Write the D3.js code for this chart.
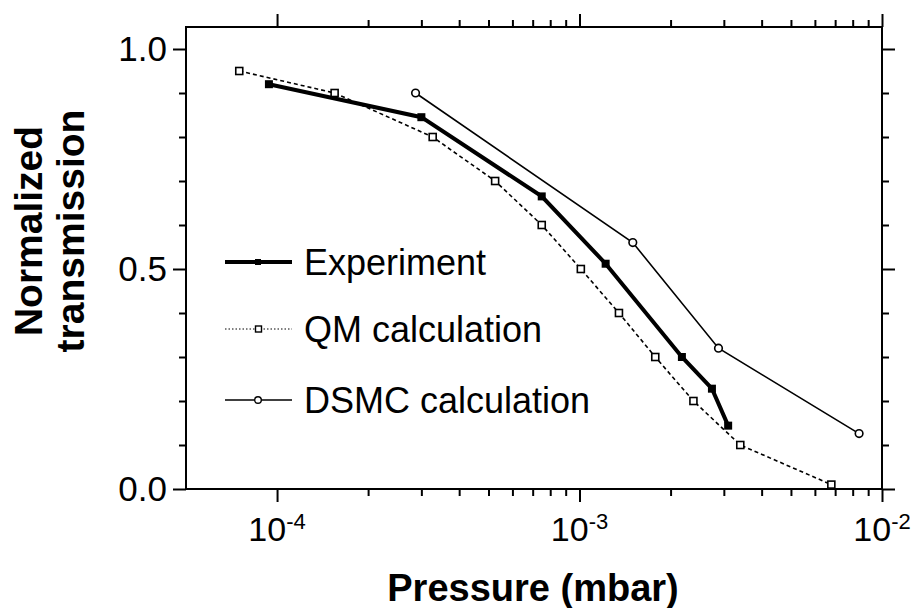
<!DOCTYPE html>
<html>
<head>
<meta charset="utf-8">
<script src="https://cdn.jsdelivr.net/npm/d3@7"></script>
<style>
  body { margin: 0; background: #fff; }
  text { font-family: Arial, "Liberation Sans", sans-serif; fill: #000; }
</style>
</head>
<body>
<div id="chart-area"></div>
<script>
// data
const expP = [9.4e-5, 3.0e-4, 7.5e-4, 1.22e-3, 2.18e-3, 2.74e-3, 3.1e-3]
const expT = [0.92, 0.845, 0.665, 0.512, 0.30, 0.228, 0.144]
const qmP = [7.5e-5, 1.55e-4, 3.27e-4, 5.26e-4, 7.5e-4, 1.01e-3, 1.35e-3, 1.78e-3, 2.38e-3, 3.4e-3, 6.8e-3]
const qmT = [0.95, 0.90, 0.80, 0.70, 0.60, 0.50, 0.40, 0.30, 0.20, 0.10, 0.01]
const dsmcP = [2.87e-4, 1.5e-3, 2.88e-3, 8.4e-3]
const dsmcT = [0.90, 0.56, 0.32, 0.126]

const xMajor = [1e-4, 1e-3, 1e-2]
const xExp = [-4, -3, -2]
const xMinor = [2e-4, 3e-4, 4e-4, 5e-4, 6e-4, 7e-4, 8e-4, 9e-4,
                2e-3, 3e-3, 4e-3, 5e-3, 6e-3, 7e-3, 8e-3, 9e-3]
const yMajor = [0, 0.5, 1.0]
const yLabels = ["0.0", "0.5", "1.0"]
const yMinor = [0.1, 0.2, 0.3, 0.4, 0.6, 0.7, 0.8, 0.9]
const legendNames = ["Experiment", "QM calculation", "DSMC calculation"]

const L = 186, R = 882, T = 27, B = 489

const svg = d3.select("#chart-area").append("svg")
    .attr("width", 920)
    .attr("height", 608)

const x = d3.scaleLog().domain([5e-5, 1e-2]).range([L, R])
const y = d3.scaleLinear().domain([0, 1.05]).range([B, T])

// ticks on all four sides, pointing outward
function ticks(axis, tx, ty, vals, size) {
    const g = svg.append("g")
        .attr("transform", `translate(${tx},${ty})`)
        .call(axis.tickValues(vals).tickSize(size).tickFormat(""))
    g.select(".domain").remove()
    g.selectAll("line").attr("stroke", "#000").attr("stroke-width", 2)
}
ticks(d3.axisBottom(x), 0, B, xMajor, 13)
ticks(d3.axisBottom(x), 0, B, xMinor, 7)
ticks(d3.axisTop(x), 0, T, xMajor, 13)
ticks(d3.axisTop(x), 0, T, xMinor, 7)
ticks(d3.axisLeft(y), L, 0, yMajor, 13)
ticks(d3.axisLeft(y), L, 0, yMinor, 7)
ticks(d3.axisRight(y), R, 0, yMajor, 13)
ticks(d3.axisRight(y), R, 0, yMinor, 7)

svg.append("rect")
    .attr("x", L).attr("y", T)
    .attr("width", R - L).attr("height", B - T)
    .attr("fill", "none").attr("stroke", "#000").attr("stroke-width", 2)

// tick labels
svg.selectAll(".ylab").data(yMajor).enter().append("text")
    .attr("x", 167)
    .attr("y", d => y(d) + 12)
    .attr("text-anchor", "end")
    .attr("font-size", 35)
    .text((d, i) => yLabels[i])

const xl = svg.selectAll(".xlab").data(xMajor).enter().append("text")
    .attr("x", d => x(d))
    .attr("y", 541)
    .attr("text-anchor", "middle")
    .attr("font-size", 34)
xl.append("tspan").text("10")
xl.append("tspan").attr("dy", -12).attr("font-size", 22).text((d, i) => xExp[i])

// axis titles
svg.append("text")
    .attr("x", 533).attr("y", 601)
    .attr("text-anchor", "middle")
    .attr("font-size", 38).attr("font-weight", "bold")
    .text("Pressure (mbar)")

const yt = svg.append("text")
    .attr("transform", "translate(42,231) rotate(-90)")
    .attr("text-anchor", "middle")
    .attr("font-size", 39).attr("font-weight", "bold")
yt.append("tspan").attr("x", 0).attr("y", 0).text("Normalized")
yt.append("tspan").attr("x", 0).attr("y", 42).text("transmission")

// series
const line = d3.line().x(d => x(d[0])).y(d => y(d[1]))
const qm = qmP.map((p, i) => [p, qmT[i]])
const ex = expP.map((p, i) => [p, expT[i]])
const ds = dsmcP.map((p, i) => [p, dsmcT[i]])

svg.append("path").datum(qm).attr("d", line)
    .attr("fill", "none").attr("stroke", "#000")
    .attr("stroke-width", 1.6).attr("stroke-dasharray", "4,3")
svg.append("path").datum(ds).attr("d", line)
    .attr("fill", "none").attr("stroke", "#000").attr("stroke-width", 1.6)
svg.append("path").datum(ex).attr("d", line)
    .attr("fill", "none").attr("stroke", "#000").attr("stroke-width", 4)

svg.selectAll(".qm").data(qm).enter().append("rect")
    .attr("x", d => x(d[0]) - 3.5).attr("y", d => y(d[1]) - 3.5)
    .attr("width", 7).attr("height", 7)
    .attr("fill", "#fff").attr("stroke", "#000").attr("stroke-width", 1.6)
svg.selectAll(".ex").data(ex).enter().append("rect")
    .attr("x", d => x(d[0]) - 4).attr("y", d => y(d[1]) - 4)
    .attr("width", 8).attr("height", 8)
    .attr("fill", "#000")
svg.selectAll(".ds").data(ds).enter().append("circle")
    .attr("cx", d => x(d[0])).attr("cy", d => y(d[1]))
    .attr("r", 3.8)
    .attr("fill", "#fff").attr("stroke", "#000").attr("stroke-width", 1.6)

// legend
const legY = [262, 329, 400]
const leg = svg.append("g")
leg.append("line").attr("x1", 225).attr("x2", 292).attr("y1", legY[0]).attr("y2", legY[0])
    .attr("stroke", "#000").attr("stroke-width", 4)
leg.append("rect").attr("x", 255).attr("y", legY[0] - 3).attr("width", 6).attr("height", 6)
    .attr("fill", "#000")
leg.append("line").attr("x1", 225).attr("x2", 292).attr("y1", legY[1]).attr("y2", legY[1])
    .attr("stroke", "#000").attr("stroke-width", 1).attr("stroke-dasharray", "1.5,2")
leg.append("rect").attr("x", 255.5).attr("y", legY[1] - 3).attr("width", 6).attr("height", 6)
    .attr("fill", "#fff").attr("stroke", "#000").attr("stroke-width", 1.4)
leg.append("line").attr("x1", 225).attr("x2", 292).attr("y1", legY[2]).attr("y2", legY[2])
    .attr("stroke", "#000").attr("stroke-width", 1.6)
leg.append("circle").attr("cx", 258).attr("cy", legY[2]).attr("r", 3.3)
    .attr("fill", "#fff").attr("stroke", "#000").attr("stroke-width", 1.4)
leg.selectAll("text").data(legendNames).enter().append("text")
    .attr("x", 304)
    .attr("y", (d, i) => legY[i] + 13)
    .attr("font-size", 36)
    .text(d => d)
</script>
</body>
</html>
